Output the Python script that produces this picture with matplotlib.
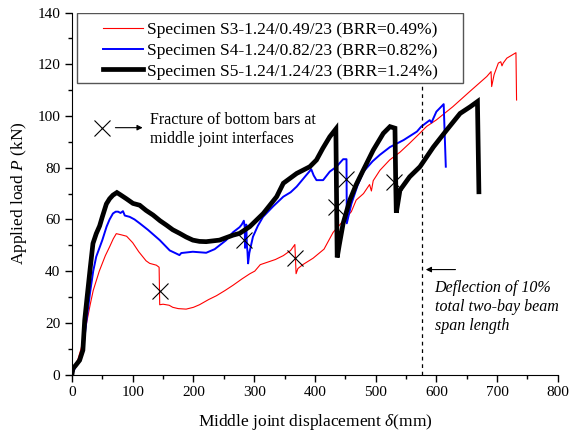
import matplotlib
matplotlib.use("Agg")
from matplotlib import pyplot as plt
from matplotlib.patches import Rectangle
from matplotlib.ticker import MultipleLocator

plt.rcParams['font.family'] = ['Liberation Serif', 'DejaVu Serif']
plt.rcParams['mathtext.fontset'] = 'custom'
plt.rcParams['mathtext.rm'] = 'Liberation Serif'
plt.rcParams['mathtext.it'] = 'Liberation Serif:italic'

# load-displacement curves (mm, kN)
s3_x = [0, 5, 10, 15, 20, 25, 30, 35, 45, 55, 62, 68, 73, 82, 90, 100, 110, 122, 128,
        139, 143.5, 144.5, 150, 160, 166, 175, 188, 200, 210, 225, 238, 252, 265, 280,
        293, 301, 310, 320, 335, 348, 360, 367, 369, 372, 380, 397, 415, 430, 445, 460,
        468, 480, 490, 493, 496, 507, 523, 540, 556, 573, 584, 600, 627, 655, 683, 690,
        691, 695, 702, 706, 708, 710, 716, 731, 732]
s3_y = [0, 3, 6, 10, 15, 21, 27, 32.5, 40, 46, 49.4, 52.5, 54.5, 54, 53.5, 51, 47.5, 44, 43,
        42.3, 41.5, 27, 27.2, 26.8, 26, 25.5, 25.3, 26, 27, 29, 30.5, 32.5, 34.5, 37,
        39, 40, 42.5, 43.3, 44.5, 46, 48, 50.3, 39, 41, 42.5, 45, 48.5, 55, 59, 63,
        67.5, 70, 73.5, 71, 75, 79, 83, 86, 89.5, 93.4, 96, 98.5, 103.6, 109.5, 115.3, 117.2,
        111.4, 116, 120.5, 121, 119.4, 120.5, 122.4, 124.5, 106.2]

s4_x = [0, 5, 10, 15, 20, 24, 30, 35, 40, 50, 57, 62, 67.5, 72, 76, 80, 84, 87, 95, 103,
        111.5, 125, 144.5, 161, 170, 177, 180, 199, 221, 235, 254, 265, 276, 279.5, 283,
        284.5, 285, 286, 287, 288, 289, 290, 292, 298, 306, 314.6, 331, 348, 360, 370, 386,
        394, 398, 402.6, 413.5, 424.5, 435.5, 446.5, 452, 452.5, 460, 470, 480, 495, 507,
        523.6, 546, 568, 575, 589, 592, 600, 612, 615.5]
s4_y = [0, 2.5, 5, 8, 13, 21, 32, 40, 45.6, 52, 57.2, 60, 62.3, 63, 63, 62.5, 63.2, 61.5, 61,
        60, 58.5, 56, 52, 48, 47, 46.2, 47, 47.5, 47.1, 48.5, 52, 55, 57, 58, 59.5,
        57, 49, 53, 58, 50, 47.5, 43, 47, 53.3, 57.5, 61, 65, 68.8, 70.5, 72.7, 77.2,
        79.4, 77, 75.2, 75.2, 78.5, 80.4, 83.3, 83.3, 58.5, 66, 73, 78.5, 82.5, 85,
        88, 90.7, 94, 95.9, 98.4, 97.5, 101.7, 104.6, 80.4]

s5_x = [0, 1.6, 6, 12.6, 18, 21, 25, 30, 34.6, 40, 45.6, 50, 56.7, 62, 67.5, 74, 80, 89.6,
        100.5, 111.5, 122, 133.5, 145, 155.5, 166, 177.4, 188, 199, 210, 221, 243, 265, 276,
        292.7, 315, 337, 348, 370, 391.6, 402.6, 413, 424.5, 434.5, 436, 436.7, 440, 446.5,
        457.5, 468, 479.5, 496, 512.6, 523.6, 531.8, 533, 534, 540, 556, 573, 595, 617, 639,
        655.8, 667.6, 670]
s5_y = [0, 2.3, 3.5, 5.5, 9.4, 21, 30, 41, 50.7, 54.5, 57.5, 61, 66, 68, 69.4, 70.4, 69.5, 68,
        66.2, 65.5, 63.5, 61.7, 59.5, 57.8, 56, 54.6, 53.2, 52, 51.5, 51.4, 52, 53.9, 54.6,
        57.2, 62.3, 68.8, 74, 77.8, 80.4, 83, 87.5, 92, 95, 60, 45.3, 50, 58.5,
        67.5, 73.5, 79, 86.8, 93.3, 95.9, 95.3, 75, 62.6, 71.3, 76.5, 80.4, 88, 94.6, 101,
        103.6, 105.6, 70.7]

labels = ["Specimen S3-1.24/0.49/23 (BRR=0.49%)",
          "Specimen S4-1.24/0.82/23 (BRR=0.82%)",
          "Specimen S5-1.24/1.24/23 (BRR=1.24%)"]

# fracture points of bottom bars
frac_x = [145, 284, 367, 435, 452, 530]
frac_y = [32.5, 52, 45, 65, 75.5, 74.5]

limit_x = 577  # 10% of total two-bay span

fig = plt.figure(figsize=(5.71, 4.36), dpi=100)
ax = fig.add_axes([0.126, 0.141, 0.851, 0.830])

ax.plot(s3_x, s3_y, color='red', lw=0.8, label=labels[0])
ax.plot(s4_x, s4_y, color='blue', lw=1.4, label=labels[1])
ax.plot(s5_x, s5_y, color='black', lw=3.4, label=labels[2], solid_joinstyle='miter')

ax.plot(frac_x, frac_y, 'x', color='black', ms=11, mew=0.8, ls='none')

ax.plot([limit_x, limit_x], [0, 113], color='black', lw=0.9, ls=(0, (3, 3)))
ax.annotate('', xy=(limit_x + 1, 40.6), xytext=(636, 40.6),
            arrowprops=dict(arrowstyle='-|>', color='black', lw=0.8, mutation_scale=8))
ax.text(597, 36.5, 'Deflection of 10%\ntotal two-bay beam\nspan length',
        fontsize=11.5, style='italic', va='top', ha='left', linespacing=1.25)

ax.plot([49], [95.5], 'x', color='black', ms=11, mew=0.8)
ax.annotate('', xy=(121, 95.5), xytext=(67, 95.5),
            arrowprops=dict(arrowstyle='-|>', color='black', lw=0.8, mutation_scale=8))
ax.text(128, 101.5, 'Fracture of bottom bars at\nmiddle joint interfaces',
        fontsize=11.5, va='top', ha='left', linespacing=1.2)

ax.set_xlim(0, 800)
ax.set_ylim(0, 140)
ax.xaxis.set_major_locator(MultipleLocator(100))
ax.xaxis.set_minor_locator(MultipleLocator(50))
ax.yaxis.set_major_locator(MultipleLocator(20))
ax.yaxis.set_minor_locator(MultipleLocator(10))
ax.tick_params(which='major', direction='out', length=5, width=1, labelsize=11)
ax.tick_params(which='minor', direction='out', length=3, width=1)
ax.spines['top'].set_visible(False)
ax.spines['right'].set_visible(False)
ax.set_xlabel(r'Middle joint displacement $\it{\delta}$(mm)', fontsize=12.5, labelpad=9)
ax.set_ylabel(r'Applied load $\it{P}$ (kN)', fontsize=12.5, labelpad=6)

# legend box with wide side margins
ax.add_patch(Rectangle((0.0105, 0.805), 0.7945, 0.193, transform=ax.transAxes,
                       facecolor='white', edgecolor='#555555', lw=1.0, zorder=4))
leg = ax.legend(loc='upper left', bbox_to_anchor=(0.064, 0.975), fontsize=12.5, frameon=False,
                handlelength=2.3, handletextpad=0.25, borderpad=0.0, labelspacing=0.27,
                borderaxespad=0.0)
leg.set_zorder(5)

fig.savefig('out.png', dpi=100)
